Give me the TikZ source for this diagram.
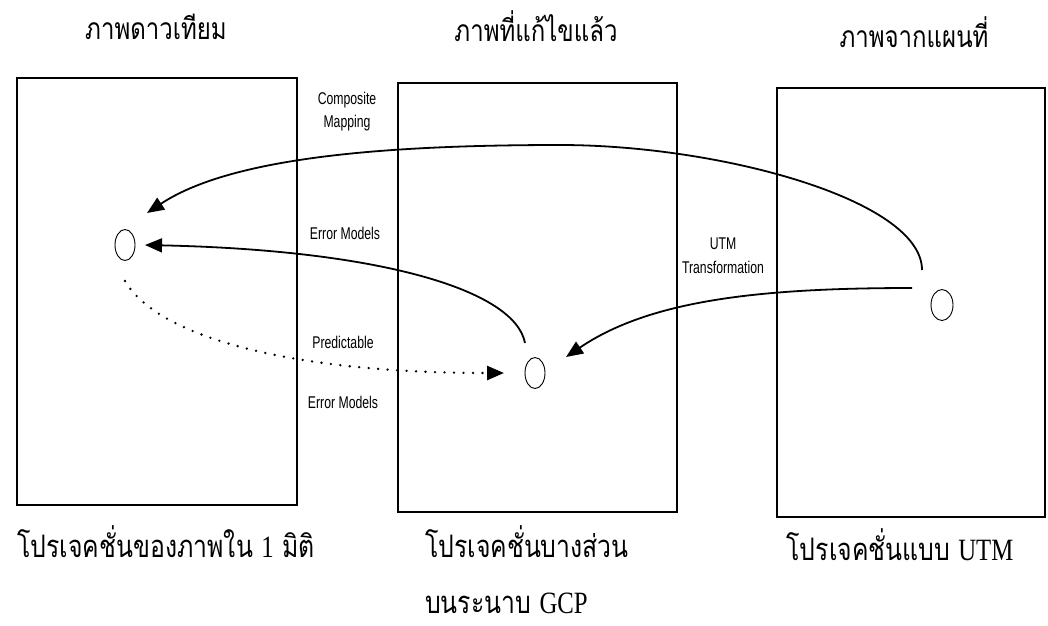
\documentclass[tikz,border=0pt]{standalone}
\usepackage{fontspec}
\setmainfont{Liberation Serif}
\newfontfamily\thaifont[Script=Thai,FakeStretch=0.8]{Loma}
\newfontfamily\latinfont[FakeStretch=0.8]{Liberation Serif}
\newfontfamily\narrowfont[FakeStretch=0.72]{Liberation Sans}
\usetikzlibrary{arrows.meta,shapes.geometric}
\begin{document}
\begin{tikzpicture}[x=1pt,y=-1pt,
  frame/.style={draw, line width=1.1pt, inner sep=0pt},
  gcp/.style={draw, ellipse, line width=0.9pt, minimum width=20pt, minimum height=31pt, inner sep=0pt},
  title/.style={font=\fontsize{30}{36}\selectfont\thaifont, inner sep=0pt, anchor=base},
  caption/.style={font=\fontsize{31}{36}\selectfont\thaifont, inner sep=0pt},
  lat/.style={},
  lbl/.style={font=\fontsize{17}{23.5}\selectfont\narrowfont, align=center, inner sep=0pt},
  tip/.style={-{Triangle[length=17pt,width=14pt]}},
  link/.style={tip, line width=1.8pt},
  dots/.style={tip, line width=2.6pt, line cap=round, dash pattern=on 0pt off 9.5pt}
]
\useasboundingbox (0,0) rectangle (1048,625);

% titles
\node[title] (t1) at (156,39) {ภาพดาวเทียม};
\node[title] (t2) at (536,41) {ภาพที่แก้ไขแล้ว};
\node[title] (t3) at (914,47) {ภาพจากแผนที่};

% frames
\node[frame, minimum width=280pt, minimum height=427pt] (b1) at (157,291.5) {};
\node[frame, minimum width=279pt, minimum height=429pt] (b2) at (537.5,297.5) {};
\node[frame, minimum width=268pt, minimum height=429pt] (b3) at (911,302.5) {};

% captions
\node[caption, anchor=base] (c1) at (166,557) {โปรเจคชั่นของภาพใน {\latinfont 1} มิติ};
\node[caption, anchor=base west] (c2) at (425,557) {โปรเจคชั่นบางส่วน};
\node[caption, anchor=base] (c3) at (900,560) {โปรเจคชั่นแบบ {\latinfont UTM}};
\node[caption, anchor=base west] (c4) at (425,613) {บนระนาบ {\latinfont GCP}};

% points
\node[gcp] (e1) at (125,245) {};
\node[gcp] (e2) at (535,373) {};
\node[gcp, minimum width=22pt, minimum height=31pt] (e3) at (942,305) {};

% labels
\node[lbl] (l1) at (347,111.5) {Composite\\Mapping};
\node[lbl] (l2) at (345,233) {Error Models};
\node[lbl] (l3) at (723,255.5) {UTM\\Transformation};
\node[lbl] (l4) at (343,342) {Predictable};
\node[lbl] (l5) at (343,402) {Error Models};

% connector ends
\coordinate (a0) at (922,270);
\coordinate (m0) at (560,145);
\coordinate (a1) at (147,213);
\coordinate (b0) at (525,343);
\coordinate (b1e) at (145,245);
\coordinate (u0) at (912,288);
\coordinate (u1) at (566,357);
\coordinate (d0) at (125,281);
\coordinate (d1) at (504,373);

% connectors
\draw[link] (a0) .. controls (922,200) and (720,145) .. (m0)
            .. controls (380,145) and (230,158) .. (a1);
\draw[link] (b0) .. controls (515,290) and (380,250) .. (b1e);
\draw[link] (u0) .. controls (760,288) and (650,300) .. (u1);
\draw[dots] (d0) .. controls (160,340) and (300,373) .. (d1);
\end{tikzpicture}
\end{document}
